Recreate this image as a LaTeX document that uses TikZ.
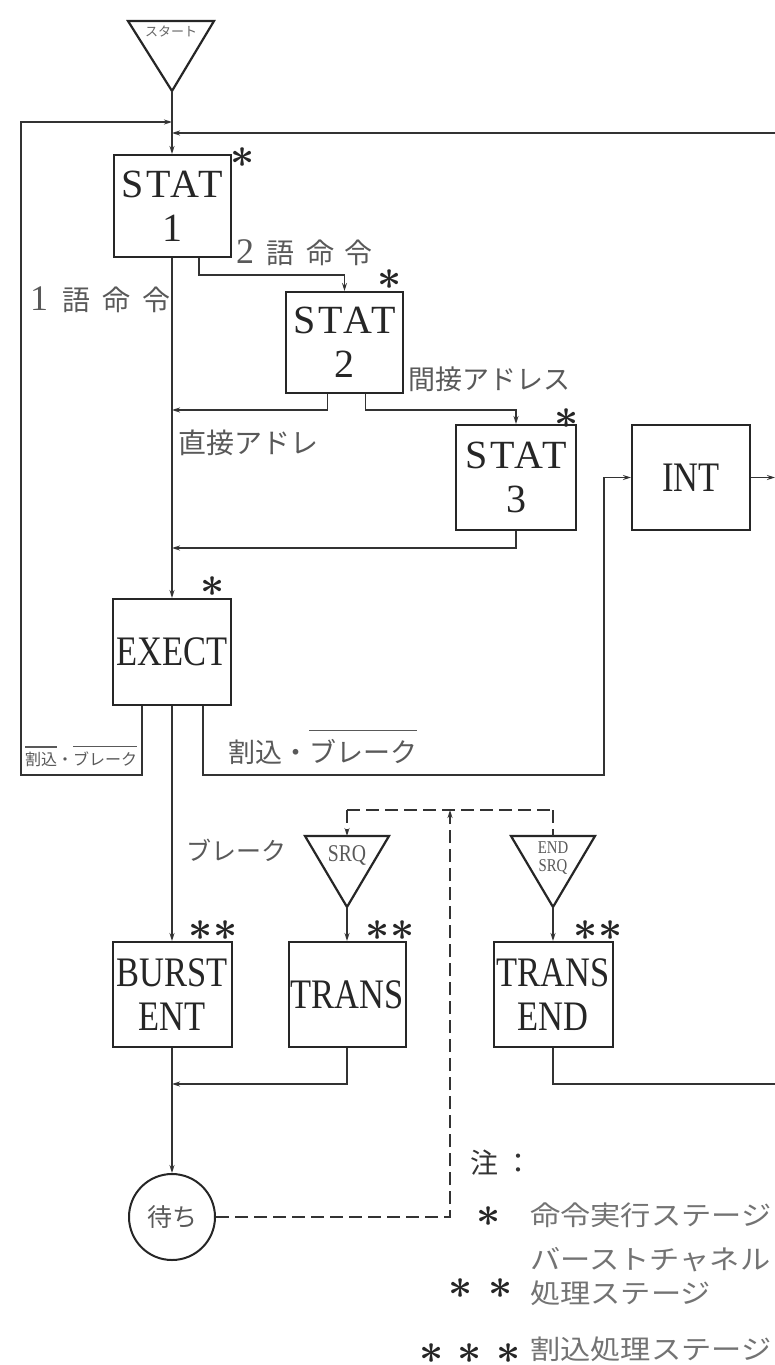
\documentclass[tikz,border=0pt]{standalone}
\usepackage{fix-cm}
\usepackage{fontspec}
\setmainfont{Liberation Serif}
\newfontfamily\jp{Noto Sans CJK JP}
\newfontfamily\jpw[FakeStretch=1.12]{Noto Sans CJK JP}
\newfontfamily\bxf[FakeStretch=0.82]{Liberation Serif}
\newfontfamily\stf[LetterSpace=8]{Liberation Serif}
\newfontfamily\smf[FakeStretch=0.82]{Liberation Serif}
\usetikzlibrary{arrows.meta,calc}
\newcommand\fs[1]{\fontsize{#1}{#1}\selectfont}
\newcommand\ovl[2]{\vbox{\hrule height 1.2pt\kern#1\hbox{#2}}}
\newcommand\st{{\boldmath$\ast$}}
\tikzset{
  ln/.style={line width=1.3pt, draw=black!80},
  arr/.style={ln, -{Stealth[length=8pt,width=5pt]}},
  dsh/.style={ln, dash pattern=on 13pt off 6pt},
  darr/.style={dsh, -{Stealth[length=8pt,width=5pt]}},
  tri/.style={line width=2.2pt, draw=black!85, line join=miter},
  boxn/.style={draw=black!85, line width=2pt, inner sep=0pt, text=black!85,
    font=\bxf\fontsize{42}{44}\selectfont, align=center},
  statn/.style={boxn, font=\stf\fontsize{40}{44}\selectfont},
  lbl/.style={inner sep=0pt, text=black!65, font=\jp\fs{28}, anchor=west},
  leg/.style={inner sep=0pt, text=black!55, font=\jpw\fs{27}, anchor=west},
  starn/.style={inner sep=0pt, text=black!85, font=\fontsize{42}{20}\selectfont},
}
\begin{document}
\begin{tikzpicture}[x=1pt, y=-1pt]
\useasboundingbox (0,0) rectangle (775,1365);
\fill[white] (0,0) rectangle (775,1365);

% start triangle
\draw[tri] (128,21) -- (214,21) -- (172,91) -- cycle;
\coordinate (startapex) at (172,91);
\node[inner sep=0pt, font=\jp\fs{13}, text=black!60] (start) at (171,31) {スタート};

% boxes
\node[statn, minimum width=117pt, minimum height=102pt] (stat1) at (172,206) {STAT\\1};
\node[statn, minimum width=117pt, minimum height=101pt] (stat2) at (344.5,342.5) {STAT\\2};
\node[statn, minimum width=120pt, minimum height=105pt] (stat3) at (516,477.5) {STAT\\3};
\node[boxn, minimum width=118pt, minimum height=105pt] (int) at (691,477.5) {INT};
\node[boxn, minimum width=118pt, minimum height=106pt] (exect) at (172,652) {EXECT};
\node[boxn, minimum width=119pt, minimum height=105pt] (burst) at (172,994.5) {BURST\\ENT};
\node[boxn, minimum width=117pt, minimum height=105pt] (trans) at (347,994.5) {TRANS};
\node[boxn, minimum width=119pt, minimum height=105pt] (tend) at (553,994.5) {TRANS\\END};
\node[draw=black!85, circle, minimum size=86pt, line width=2pt, inner sep=0pt,
      text=black!65, font=\jp\fs{25}] (wait) at (172,1217) {待ち};

% SRQ triangles
\draw[tri] (305,836) -- (389,836) -- (347,907) -- cycle;
\coordinate (srqtop) at (347,836);
\coordinate (srqapex) at (347,907);
\node[inner sep=0pt, text=black!65, font=\smf\fs{24}] (srq) at (347,855) {SRQ};
\draw[tri] (511,836) -- (595,836) -- (553,907) -- cycle;
\coordinate (esrqtop) at (553,836);
\coordinate (esrqapex) at (553,907);
\node[inner sep=0pt, text=black!65, align=center, font=\smf\fontsize{18}{18}\selectfont] (esrq) at (553,858) {END\\SRQ};

% asterisks
\node[starn] (s1) at (243,158) {\st};
\node[starn] (s2) at (390,280) {\st};
\node[starn] (s3) at (567,419) {\st};
\node[starn] (s4) at (213,587) {\st};
\node[starn] (s5) at (213,931) {\st\hspace{1pt}\st};
\node[starn] (s6) at (390,931) {\st\hspace{1pt}\st};
\node[starn] (s7) at (598,931) {\st\hspace{1pt}\st};

% junction coordinates
\coordinate (jl) at (172,122);
\coordinate (jr) at (172,133);
\coordinate (re1) at (775,133);
\coordinate (j2) at (172,410);
\coordinate (j3) at (172,548);
\coordinate (re2) at (775,477.5);
\coordinate (j4) at (172,1084);
\coordinate (re3) at (775,1084);
\coordinate (dtl) at (347,810);
\coordinate (dtr) at (553,810);
\coordinate (dup) at (450,810);

% connectors
\draw[arr] (startapex) -- (stat1.north);
\draw[arr] ($(exect.south west)+(30,0)$) |- (21,775) |- (jl);
\draw[arr] (re1) -- (jr);
\draw[arr] ($(stat1.south)+(27,0)$) -- ++(0,17) -| (stat2.north);
\draw[arr] (stat1.south) -- (exect.north);
\draw[arr] ($(stat2.south)+(-17,0)$) |- (j2);
\draw[arr] ($(stat2.south)+(21,0)$) -- ++(0,16) -| (stat3.north);
\draw[arr] (stat3.south) |- (j3);
\draw[arr] ($(exect.south east)+(-29,0)$) |- (604,775) |- (int.west);
\draw[arr] (int.east) -- (re2);
\draw[arr] (exect.south) -- (burst.north);
\draw[arr] (srqapex) -- (trans.north);
\draw[arr] (esrqapex) -- (tend.north);
\draw[arr] (trans.south) |- (j4);
\draw[arr] (burst.south) -- (wait.north);
\draw[ln] (tend.south) |- (re3);
\draw[dsh] (dtl) -- (dtr);
\draw[darr] (dtl) -- (srqtop);
\draw[dsh] (dtr) -- (esrqtop);
\draw[darr] (wait.east) -| (dup);

% labels
\node[lbl] (l1) at (30,300) {{\rmfamily\fs{36}1}\hspace{14pt}語\hspace{12pt}命\hspace{12pt}令};
\node[lbl] (l2) at (236,253) {{\rmfamily\fs{36}2}\hspace{12pt}語\hspace{12pt}命\hspace{10pt}令};
\node[lbl] (l3) at (178,443) {直接アドレ};
\node[lbl, font=\jp\fs{27}] (l4) at (408,379) {間接アドレス};
\node[lbl, font=\jp\fs{27}, anchor=base west] (l5) at (228,762) {割込・\ovl{8pt}{ブレーク}};
\node[lbl, font=\jp\fs{16}, anchor=base west] (l6) at (25,765) {\ovl{4pt}{割込}・\ovl{4pt}{ブレーク}};
\node[lbl, font=\jp\fs{25}] (l7) at (186,850) {ブレーク};

% legend
\node[lbl, text=black!80] (note) at (470,1163) {注\hspace{6pt}：};
\node[starn] (ls1) at (489,1217) {\st};
\node[leg] (lt1) at (530,1215) {命令実行ステージ};
\node[leg] (lt2) at (530,1260) {バーストチャネル};
\node[leg] (lt3) at (530,1293) {処理ステージ};
\node[starn] (ls2) at (481,1289) {\st\hspace{16pt}\st};
\node[starn] (ls3) at (470,1354) {\st\hspace{14pt}\st\hspace{14pt}\st};
\node[leg] (lt4) at (530,1349) {割込処理ステージ};
\end{tikzpicture}
\end{document}
